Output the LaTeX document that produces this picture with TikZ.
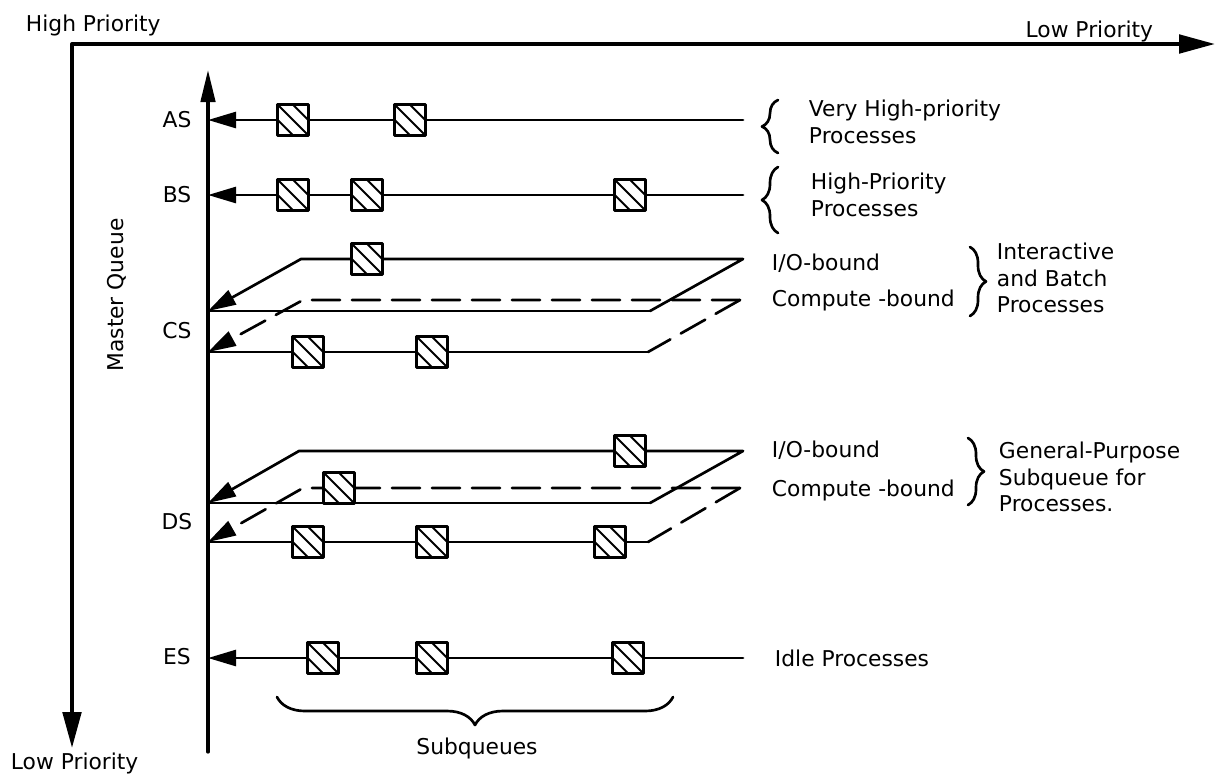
\documentclass[tikz,border=0pt]{standalone}
\usepackage{fontspec}
\setmainfont{DejaVu Sans}
\usepackage{tikz}
\usetikzlibrary{arrows.meta,calc,decorations.pathreplacing}
\newcommand\qfont{\fontsize{15.5}{19}\selectfont}
\tikzset{
    every picture/.style={line cap=round,line join=round},
    frameaxis/.style={line width=2.8pt,
      {Triangle[length=9mm,width=4.6mm]}-{Triangle[length=9mm,width=4.6mm]}},
    queueaxis/.style={line width=2.3pt,-{Triangle[length=8mm,width=3.6mm]}},
    rowline/.style={line width=1.9pt},
    rowarrow/.style={rowline,-{Triangle[length=7mm,width=4mm]}},
    planedash/.style={dash pattern=on 7mm off 3mm},
    procbox/.style={draw,fill=white,line width=2.1pt,minimum size=7.6mm,inner sep=0pt,
      path picture={
        \draw[line width=1.4pt] (path picture bounding box.north west)
          -- (path picture bounding box.south east);
        \draw[line width=1.4pt]
          ($(path picture bounding box.north west)!0.5!(path picture bounding box.north east)$)
          -- ($(path picture bounding box.north east)!0.5!(path picture bounding box.south east)$);
        \draw[line width=1.4pt]
          ($(path picture bounding box.north west)!0.5!(path picture bounding box.south west)$)
          -- ($(path picture bounding box.south west)!0.5!(path picture bounding box.south east)$);
      }},
    sidetext/.style={align=left,anchor=west},
    sidebrace/.style={decorate,decoration={brace,amplitude=4mm},line width=1.9pt},
}

\begin{document}
\begin{tikzpicture}[x=0.25mm,y=-0.25mm,font=\qfont]
  \useasboundingbox (0,0) rectangle (1216,778);

  % priority frame
  \coordinate (corner) at (72,44);
  \coordinate (hi-end) at (1215,44);
  \coordinate (lo-end) at (72,748);
  \draw[frameaxis] (lo-end) -- (corner) -- (hi-end);
  \node[anchor=base west] (hp) at (21,31) {High Priority};
  \node[anchor=base east] (lp-top) at (1158,37) {Low Priority};
  \node[anchor=west] (lp-bot) at (6,763) {Low Priority};

  % master queue
  \coordinate (mq-bot) at (208,752);
  \coordinate (mq-top) at (208,70);
  \draw[queueaxis] (mq-bot) -- (mq-top);
  \node[rotate=90] (mq) at (117,295) {Master Queue};

  \node (as) at (177,120) {AS};
  \node (bs) at (177,195) {BS};
  \node (cs) at (177,331) {CS};
  \node (ds) at (177,522) {DS};
  \node (es) at (177,657) {ES};

  % single queues
  \coordinate (as-r) at (743,120); \coordinate (as-q) at (208,120);
  \coordinate (bs-r) at (743,195); \coordinate (bs-q) at (208,195);
  \coordinate (es-r) at (743,658); \coordinate (es-q) at (208,658);
  \draw[rowarrow] (as-r) -- (as-q);
  \draw[rowarrow] (bs-r) -- (bs-q);
  \draw[rowarrow] (es-r) -- (es-q);

  % CS planes
  \coordinate (cs-io-a) at (743,259); \coordinate (cs-io-b) at (301,259);
  \coordinate (cs-io-c) at (208,311); \coordinate (cs-io-d) at (650,311);
  \coordinate (cs-cb-a) at (740,300); \coordinate (cs-cb-b) at (303,300);
  \coordinate (cs-cb-c) at (208,352); \coordinate (cs-cb-d) at (648,352);
  \draw[rowarrow,planedash] (cs-cb-a) -- (cs-cb-b) -- (cs-cb-c);
  \draw[rowline,planedash] (cs-cb-a) -- (cs-cb-d);
  \draw[rowline] (cs-cb-d) -- (cs-cb-c);
  \draw[rowarrow] (cs-io-d) -- (cs-io-a) -- (cs-io-b) -- (cs-io-c);
  \draw[rowline] (cs-io-d) -- (cs-io-c);

  % DS planes
  \coordinate (ds-io-a) at (743,451); \coordinate (ds-io-b) at (299,451);
  \coordinate (ds-io-c) at (208,503); \coordinate (ds-io-d) at (650,503);
  \coordinate (ds-cb-a) at (740,488); \coordinate (ds-cb-b) at (303,488);
  \coordinate (ds-cb-c) at (208,542); \coordinate (ds-cb-d) at (648,542);
  \draw[rowarrow,planedash] (ds-cb-a) -- (ds-cb-b) -- (ds-cb-c);
  \draw[rowline,planedash] (ds-cb-a) -- (ds-cb-d);
  \draw[rowline] (ds-cb-d) -- (ds-cb-c);
  \draw[rowarrow] (ds-io-d) -- (ds-io-a) -- (ds-io-b) -- (ds-io-c);
  \draw[rowline] (ds-io-d) -- (ds-io-c);

  % processes waiting in the subqueues
  \foreach \x [count=\i] in {293,410} \node[procbox] (as-p\i) at (\x,120) {};
  \foreach \x [count=\i] in {293,367,630} \node[procbox] (bs-p\i) at (\x,195) {};
  \node[procbox] (cs-io-p1) at (367,259) {};
  \foreach \x [count=\i] in {308,432} \node[procbox] (cs-cb-p\i) at (\x,352) {};
  \node[procbox] (ds-io-p1) at (630,451) {};
  \node[procbox] (ds-x-p1) at (339,488) {};
  \foreach \x [count=\i] in {308,432,610} \node[procbox] (ds-cb-p\i) at (\x,542) {};
  \foreach \x [count=\i] in {323,432,628} \node[procbox] (es-p\i) at (\x,658) {};

  % right hand notes
  \draw[sidebrace] (778,153) -- (778,100);
  \node[sidetext] (as-txt) at (804,122) {Very High-priority\\Processes};
  \draw[sidebrace] (778,233) -- (778,167);
  \node[sidetext] (bs-txt) at (806,195) {High-Priority\\Processes};

  \node[sidetext] (cs-io-txt) at (767,263) {I/O-bound};
  \node[sidetext] (cs-cb-txt) at (767,300) {Compute -bound};
  \draw[sidebrace] (970,247) -- (970,316);
  \node[sidetext] (cs-txt) at (992,278) {Interactive\\and Batch\\Processes};

  \node[sidetext] (ds-io-txt) at (767,450) {I/O-bound};
  \node[sidetext] (ds-cb-txt) at (767,490) {Compute -bound};
  \draw[sidebrace] (968,438) -- (968,505);
  \node[sidetext] (ds-txt) at (994,477) {General-Purpose\\Subqueue for\\Processes.};

  \node[sidetext] (es-txt) at (770,658) {Idle Processes};

  \draw[sidebrace,decoration={amplitude=7mm}] (673,697) -- (277,697);
  \node (subq) at (477,748) {Subqueues};
\end{tikzpicture}
\end{document}
